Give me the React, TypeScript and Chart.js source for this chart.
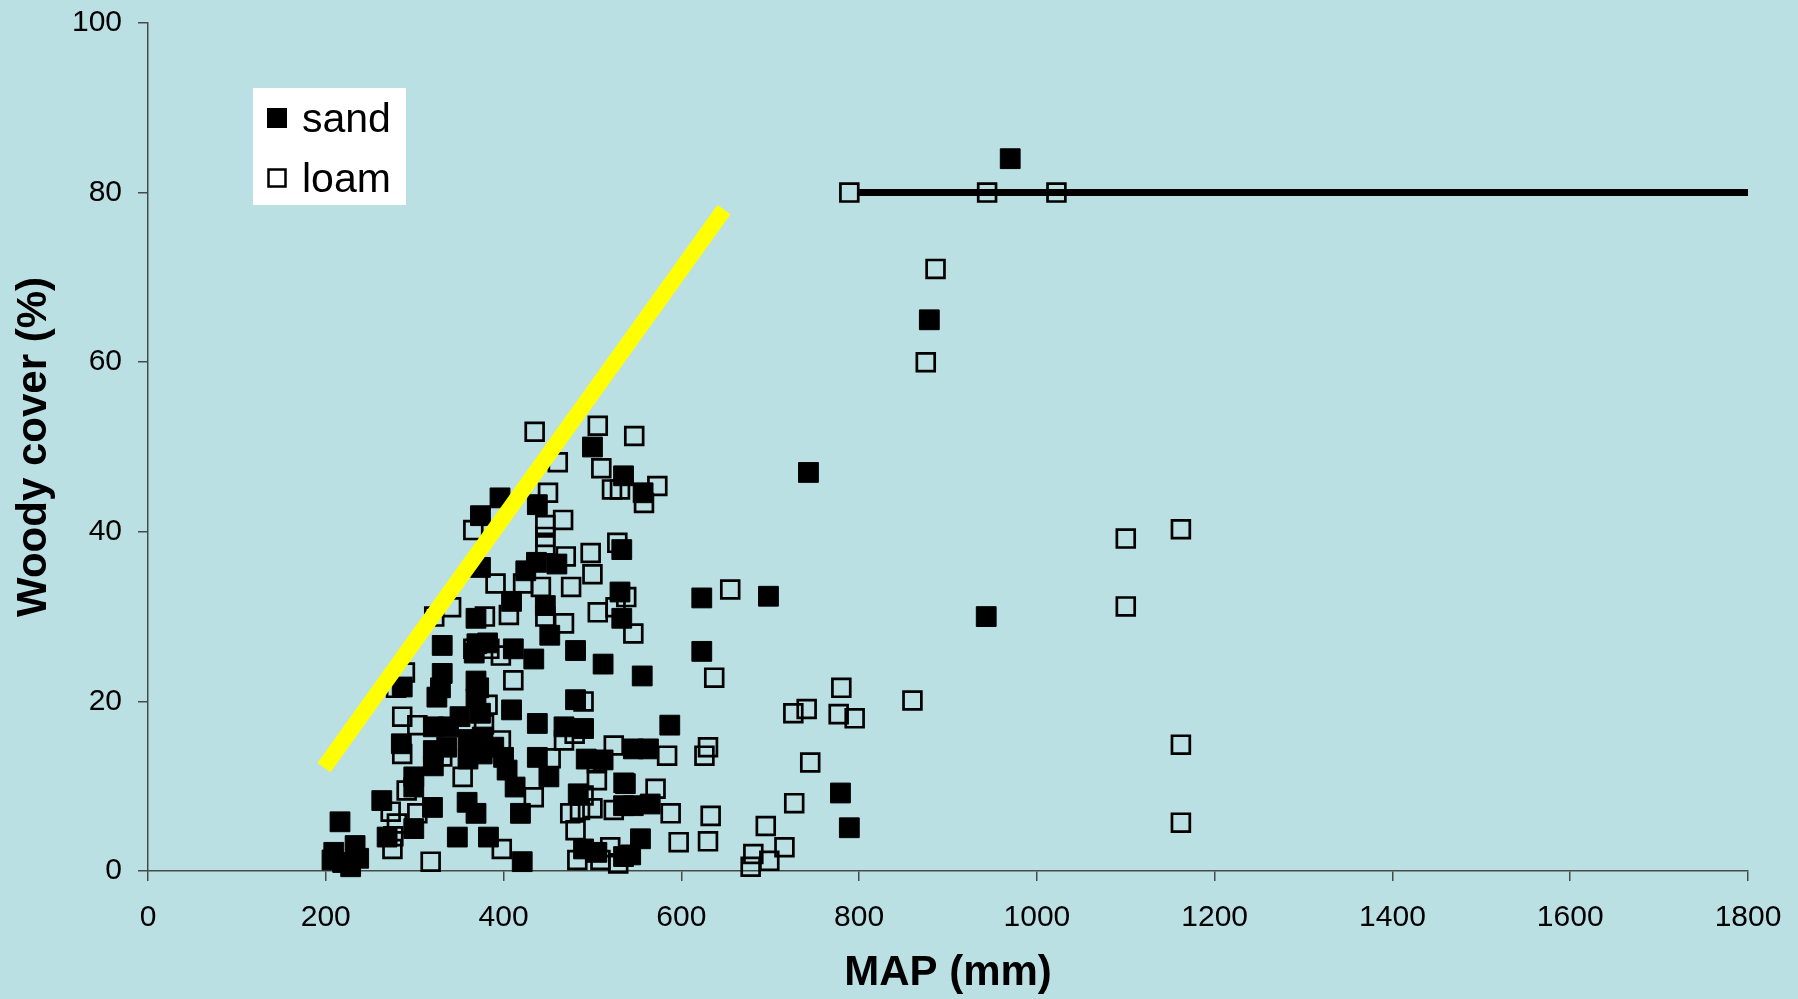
import { useEffect, useRef } from 'react';
import { Chart, registerables } from 'chart.js';

Chart.register(...registerables);

// Mean annual precipitation (mm) vs woody cover (%) for sites on sandy soils
const sandSites: [number, number][] = [
  [970, 84], [879, 65], [743, 47], [943, 30], [698, 32.4], [623, 32.2], [623, 25.9], [779, 9.2], [789, 5.1],
  [587, 17.2], [556, 23], [557, 44.6], [535, 46.6], [500, 50], [533, 37.9], [531, 32.9], [533, 29.8],
  [512, 24.4], [481, 26], [481, 20.2], [396, 44], [374, 41.9], [438, 43.2], [437, 36.4], [460, 36.2],
  [425, 35.4], [374, 35.8], [409, 31.8], [369, 29.8], [447, 31.3], [452, 27.8], [434, 25], [411, 26.2],
  [382, 26.9], [331, 26.6], [331, 23.3], [286, 21.7], [325, 20.5], [369, 22.4], [369, 20.3], [374, 18.6],
  [372, 21.6], [367, 25.7], [370, 26.8], [409, 19], [438, 17.4], [468, 17], [490, 16.8], [546, 14.4],
  [563, 14.4], [512, 13.1], [493, 13.2], [537, 10.3], [546, 7.7], [535, 7.7], [565, 7.9], [484, 9.1],
  [490, 2.6], [505, 2.2], [535, 1.7], [543, 1.9], [554, 3.8], [451, 11.1], [438, 13.4], [400, 13.4],
  [404, 11.9], [413, 9.9], [419, 6.8], [421, 1.1], [383, 4], [348, 4], [369, 6.8], [359, 8.1], [320, 7.5],
  [299, 5], [269, 4], [263, 8.3], [299, 9.9], [299, 11.1], [321, 12.4], [321, 14.2], [321, 17], [336, 14.6],
  [338, 17], [285, 15], [351, 18.2], [360, 15.5], [376, 15.8], [389, 14.6], [360, 13.2], [376, 13.8],
  [216, 5.8], [209, 2.2], [233, 3], [228, 0.5], [207, 1.3], [237, 1.5], [219, 1], [329, 21.6],
];

// Same measurements for sites on loamy soils
const loamSites: [number, number][] = [
  [789, 80], [944, 80], [1022, 80], [886, 71], [875, 60], [1100, 39.2], [1162, 40.3], [1100, 31.2],
  [1162, 14.9], [1162, 5.7], [860, 20.1], [780, 21.6], [777, 18.5], [795, 18], [741, 19.1], [726, 18.6],
  [745, 12.8], [727, 8], [695, 5.3], [716, 2.8], [681, 2], [699, 1.2], [678, 0.5], [655, 33.2], [637, 22.8],
  [630, 14.6], [626, 13.6], [633, 6.5], [630, 3.5], [597, 3.4], [588, 6.8], [571, 9.7], [584, 13.6],
  [573, 45.4], [558, 43.4], [547, 51.3], [506, 52.5], [435, 51.8], [461, 48.2], [510, 47.5], [522, 45],
  [531, 45], [450, 44.6], [467, 41.4], [447, 40.8], [447, 39.4], [447, 38.4], [528, 38.7], [498, 37.5],
  [470, 37.1], [500, 35], [476, 33.5], [506, 30.5], [526, 31.1], [538, 32.3], [546, 28], [442, 33.5],
  [422, 33.9], [468, 29.2], [447, 30], [406, 30.2], [391, 33.9], [366, 40.2], [341, 31.1], [322, 30],
  [379, 30], [384, 26.2], [397, 25.4], [366, 26.2], [411, 22.5], [289, 23.4], [279, 21.6], [286, 18.2],
  [286, 13.8], [397, 15.4], [378, 17.3], [382, 19.6], [354, 11.1], [331, 13.5], [434, 8.7], [453, 13.3],
  [468, 15.4], [480, 16.2], [490, 20], [505, 12.7], [505, 10.7], [475, 6.8], [486, 7.2], [481, 4.8],
  [483, 1.3], [509, 1.3], [520, 2.8], [529, 0.9], [524, 14.8], [535, 10.4], [524, 7.2], [500, 7.4],
  [490, 8.9], [273, 7], [276, 4.1], [275, 2.6], [318, 1.1], [398, 2.6], [291, 9.5], [303, 17.2],
  [280, 5.6], [303, 6.8],
];

// Rainfall-limited upper bound and the 80% cover ceiling
const boundMap = [198, 648];
const boundCover = [12.2, 78];
const boundShadowMap = [200, 645];
const boundShadowCover = [13.2, 77.6];
const ceilingMap = [800, 1800];
const ceilingCover = [80, 80];

const xTicks = [0, 200, 400, 600, 800, 1000, 1200, 1400, 1600, 1800];
const yTicks = [0, 20, 40, 60, 80, 100];

const legendItems = [
  { label: 'sand', filled: true },
  { label: 'loam', filled: false },
];

const FONT = '"Liberation Sans", Arial, Helvetica, sans-serif';
const BG = '#bbe0e3';
const AXIS = '#454a4b';

const toPoints = (xs: number[], ys: number[]) => xs.map((x, i) => ({ x, y: ys[i] }));

const legendPlugin = {
  id: 'soilLegend',
  afterDraw(chart: any) {
    const { ctx, chartArea } = chart;
    const left = chartArea.left + 105;
    const top = chartArea.top + 65;
    ctx.save();
    ctx.fillStyle = '#ffffff';
    ctx.fillRect(left, top, 153, 117);
    ctx.font = `41px ${FONT}`;
    ctx.textBaseline = 'alphabetic';
    legendItems.forEach((item, i) => {
      const cy = top + 30 + i * 60;
      if (item.filled) {
        ctx.fillStyle = '#000';
        ctx.fillRect(left + 14, cy - 10, 20, 20);
      } else {
        ctx.strokeStyle = '#000';
        ctx.lineWidth = 2.5;
        ctx.strokeRect(left + 15.5, cy - 8.5, 17, 17);
      }
      ctx.fillStyle = '#000';
      ctx.fillText(item.label, left + 49, cy + 14);
    });
    ctx.restore();
  },
};

export default function App() {
  const canvasRef = useRef<HTMLCanvasElement | null>(null);

  useEffect(() => {
    const canvas = canvasRef.current;
    if (!canvas) return;
    Chart.defaults.font.family = FONT;

    const chart = new Chart(canvas, {
      type: 'scatter',
      data: {
        datasets: [
          {
            label: 'bound shadow',
            data: toPoints(boundShadowMap, boundShadowCover),
            showLine: true,
            borderColor: '#000',
            borderWidth: 3,
            pointRadius: 0,
            borderCapStyle: 'butt',
            order: 1,
          },
          {
            label: 'bound',
            data: toPoints(boundMap, boundCover),
            showLine: true,
            borderColor: '#ffff00',
            borderWidth: 16,
            pointRadius: 0,
            borderCapStyle: 'butt',
            order: 0,
          },
          {
            label: 'ceiling',
            data: toPoints(ceilingMap, ceilingCover),
            showLine: true,
            borderColor: '#000',
            borderWidth: 7,
            pointRadius: 0,
            borderCapStyle: 'butt',
            order: 0,
          },
          {
            label: 'sand',
            data: sandSites.map(([x, y]) => ({ x, y })),
            pointStyle: 'rect',
            pointRadius: 14,
            backgroundColor: '#000',
            borderColor: '#000',
            borderWidth: 1,
            clip: false,
            order: 3,
          },
          {
            label: 'loam',
            data: loamSites.map(([x, y]) => ({ x, y })),
            pointStyle: 'rect',
            pointRadius: 12.6,
            backgroundColor: 'rgba(0,0,0,0)',
            borderColor: '#000',
            borderWidth: 2.7,
            clip: false,
            order: 2,
          },
        ],
      },
      options: {
        animation: false,
        responsive: false,
        events: [],
        layout: { padding: { top: 23, right: 50, left: 0, bottom: 0 } },
        plugins: {
          legend: { display: false },
          tooltip: { enabled: false },
        },
        scales: {
          x: {
            type: 'linear',
            min: 0,
            max: 1800,
            afterBuildTicks: (axis: any) => {
              axis.ticks = xTicks.map((value) => ({ value }));
            },
            afterFit: (axis: any) => {
              axis.height = 128;
              axis.paddingLeft = 0;
              axis.paddingRight = 0;
            },
            ticks: {
              color: '#000',
              font: { size: 30, family: FONT },
              padding: 19,
              maxRotation: 0,
              autoSkip: false,
              callback: (value: any) => String(value),
            },
            grid: { drawOnChartArea: false, drawTicks: true, tickLength: 10, color: AXIS, lineWidth: 1.5 },
            border: { display: true, color: AXIS, width: 1.5 },
            title: {
              display: true,
              text: 'MAP (mm)',
              color: '#000',
              font: { size: 42, weight: 'bold', family: FONT },
              padding: { top: 0, bottom: 0 },
            },
          },
          y: {
            type: 'linear',
            min: 0,
            max: 100,
            afterBuildTicks: (axis: any) => {
              axis.ticks = yTicks.map((value) => ({ value }));
            },
            afterFit: (axis: any) => {
              axis.width = 148;
              axis.paddingTop = 0;
              axis.paddingBottom = 0;
            },
            ticks: {
              color: '#000',
              font: { size: 30, family: FONT },
              padding: 16,
              autoSkip: false,
              callback: (value: any) => String(value),
            },
            grid: { drawOnChartArea: false, drawTicks: true, tickLength: 10, color: AXIS, lineWidth: 1.5 },
            border: { display: true, color: AXIS, width: 1.5 },
            title: {
              display: true,
              text: 'Woody cover (%)',
              color: '#000',
              font: { size: 42, weight: 'bold', family: FONT },
              padding: { top: 9, bottom: 0 },
            },
          },
        },
      },
      plugins: [legendPlugin],
    } as any);

    return () => chart.destroy();
  }, []);

  return (
    <div style={{ position: 'fixed', left: 0, top: 0, width: 1798, height: 999, background: BG }}>
      <canvas ref={canvasRef} width={1798} height={999} style={{ display: 'block' }} />
    </div>
  );
}
